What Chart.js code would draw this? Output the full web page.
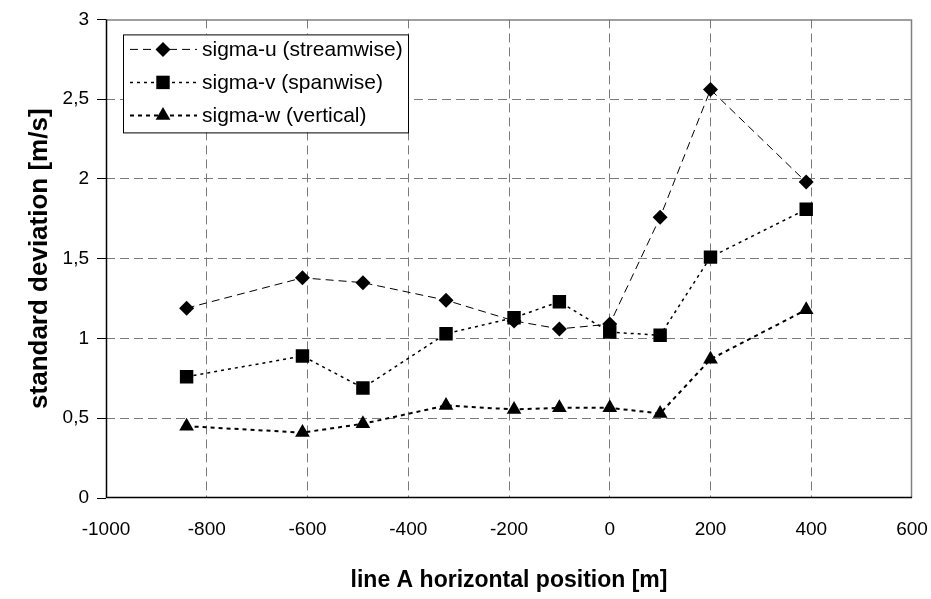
<!DOCTYPE html>
<html>
<head>
<meta charset="utf-8">
<script src="https://cdn.jsdelivr.net/npm/chart.js@4"></script>
<style>
  body { margin: 0; background: #fff; }
  #wrap { width: 931px; height: 599px; }
</style>
</head>
<body>
<div id="wrap"><canvas id="chart" width="931" height="599"></canvas></div>
<script>
// positions along line A [m]
const positions = [-840, -610, -490, -325, -190, -100, 0, 100, 200, 390];
// standard deviations [m/s]
const sigmaU = [1.19, 1.38, 1.35, 1.24, 1.11, 1.06, 1.09, 1.76, 2.56, 1.98];
const sigmaV = [0.76, 0.89, 0.69, 1.03, 1.13, 1.23, 1.04, 1.02, 1.51, 1.81];
const sigmaW = [0.45, 0.41, 0.465, 0.58, 0.555, 0.565, 0.565, 0.53, 0.87, 1.18];
const seriesNames = ["sigma-u (streamwise)", "sigma-v (spanwise)", "sigma-w (vertical)"];
const xTicks = [-1000, -800, -600, -400, -200, 0, 200, 400, 600];
const yTicks = [0, 0.5, 1, 1.5, 2, 2.5, 3];

const FONT = "'Liberation Sans', Arial, sans-serif";
const GRID = "#7a7a7a";

function pts(ys) {
  return positions.map((x, i) => ({ x: x, y: ys[i] }));
}

// grid colour, hidden on the outer edges (frame plugin draws those)
function gridColor(list) {
  return c => (c.tick && (c.tick.value === list[0] || c.tick.value === list[list.length - 1])) ? "rgba(0,0,0,0)" : GRID;
}

/* ==== marker drawing (used by legend) ==== */
function drawMarker(ctx, style, r, x, y) {
  ctx.beginPath();
  if (style === "rectRot") {
    ctx.moveTo(x, y - r); ctx.lineTo(x + r, y); ctx.lineTo(x, y + r); ctx.lineTo(x - r, y);
  } else if (style === "rect") {
    const s = r * Math.SQRT1_2;
    ctx.rect(x - s, y - s, 2 * s, 2 * s);
  } else {
    ctx.moveTo(x, y - r);
    ctx.lineTo(x + r * Math.cos(Math.PI / 6), y + r / 2);
    ctx.lineTo(x - r * Math.cos(Math.PI / 6), y + r / 2);
  }
  ctx.closePath();
  ctx.fill();
}

/* ==== frame: grey top/right, black left/bottom ==== */
const frame = {
  id: "frame",
  beforeDatasetsDraw(chart) {
    const { ctx, chartArea: a } = chart;
    ctx.save();
    ctx.strokeStyle = "#808080";
    ctx.lineWidth = 1.5;
    ctx.beginPath();
    ctx.moveTo(a.left, a.top + 0.5);
    ctx.lineTo(a.right - 0.5, a.top + 0.5);
    ctx.lineTo(a.right - 0.5, a.bottom);
    ctx.stroke();
    ctx.strokeStyle = "#000";
    ctx.beginPath();
    ctx.moveTo(a.left + 0.5, a.top);
    ctx.lineTo(a.left + 0.5, a.bottom - 0.5);
    ctx.lineTo(a.right, a.bottom - 0.5);
    ctx.stroke();
    ctx.restore();
  }
};

/* ==== legend box in upper left ==== */
const boxLegend = {
  id: "boxLegend",
  afterDraw(chart) {
    const { ctx, chartArea: a } = chart;
    const bx = a.left + 17, by = a.top + 15, bw = 285, bh = 98;
    ctx.save();
    ctx.fillStyle = "#fff";
    ctx.fillRect(bx, by, bw, bh);
    ctx.strokeStyle = "#000";
    ctx.lineWidth = 1;
    ctx.strokeRect(bx + 0.5, by + 0.5, bw, bh);
    chart.data.datasets.forEach((ds, i) => {
      const y = by + 15 + i * 33;
      ctx.strokeStyle = "#000";
      ctx.lineWidth = ds.borderWidth;
      ctx.setLineDash(ds.borderDash);
      ctx.beginPath();
      ctx.moveTo(bx + 7, y);
      ctx.lineTo(bx + 74, y);
      ctx.stroke();
      ctx.setLineDash([]);
      ctx.fillStyle = "#000";
      drawMarker(ctx, ds.pointStyle, ds.pointRadius, bx + 40, y);
      ctx.font = "21px " + FONT;
      ctx.textBaseline = "middle";
      ctx.textAlign = "left";
      ctx.fillText(ds.label, bx + 79, y + 1);
    });
    ctx.restore();
  }
};

const ctx = document.getElementById("chart").getContext("2d");

new Chart(ctx, {
  type: "scatter",
  data: {
    datasets: [
      {
        label: seriesNames[0],
        data: pts(sigmaU),
        showLine: true,
        borderColor: "#000",
        backgroundColor: "#000",
        borderWidth: 1,
        borderDash: [8, 5],
        pointStyle: "rectRot",
        pointRadius: 7.5,
        pointBorderWidth: 0
      },
      {
        label: seriesNames[1],
        data: pts(sigmaV),
        showLine: true,
        borderColor: "#000",
        backgroundColor: "#000",
        borderWidth: 1.5,
        borderDash: [3, 4],
        pointStyle: "rect",
        pointRadius: 9.5,
        pointBorderWidth: 0
      },
      {
        label: seriesNames[2],
        data: pts(sigmaW),
        showLine: true,
        borderColor: "#000",
        backgroundColor: "#000",
        borderWidth: 2,
        borderDash: [4, 4],
        pointStyle: "triangle",
        pointRadius: 8.5,
        pointBorderWidth: 0
      }
    ]
  },
  options: {
    responsive: false,
    animation: false,
    layout: { padding: { top: 19, right: 19, left: 0, bottom: 0 } },
    plugins: {
      legend: { display: false },
      tooltip: { enabled: false }
    },
    scales: {
      x: {
        type: "linear",
        min: xTicks[0],
        max: xTicks[xTicks.length - 1],
        afterBuildTicks(scale) { scale.ticks = xTicks.map(v => ({ value: v })); },
        afterFit(scale) {
          scale.height = 101;
          scale.paddingLeft = 0;
          scale.paddingRight = 0;
        },
        grid: {
          color: gridColor(xTicks),
          lineWidth: 1,
          drawTicks: false
        },
        border: { display: false, dash: [9, 5] },
        ticks: {
          color: "#000",
          font: { family: FONT, size: 19 },
          padding: 20,
          maxRotation: 0,
          callback: v => String(v)
        },
        title: {
          display: true,
          text: "line A horizontal position [m]",
          color: "#000",
          font: { family: FONT, size: 23, weight: "bold" },
          padding: { top: 0, bottom: 5 }
        }
      },
      y: {
        min: yTicks[0],
        max: yTicks[yTicks.length - 1],
        afterBuildTicks(scale) { scale.ticks = yTicks.map(v => ({ value: v })); },
        afterFit(scale) { scale.width = 106; },
        grid: {
          color: gridColor(yTicks),
          lineWidth: 1,
          drawTicks: true,
          tickLength: 9,
          tickColor: "#000",
          tickBorderDash: []
        },
        border: { display: false, dash: [9, 5] },
        ticks: {
          color: "#000",
          font: { family: FONT, size: 19 },
          padding: 8,
          callback: v => String(v).replace(".", ",")
        },
        title: {
          display: true,
          text: "standard deviation [m/s]",
          color: "#000",
          font: { family: FONT, size: 26, weight: "bold" },
          padding: { top: 24, bottom: 0 }
        }
      }
    }
  },
  plugins: [frame, boxLegend]
});
</script>
</body>
</html>
